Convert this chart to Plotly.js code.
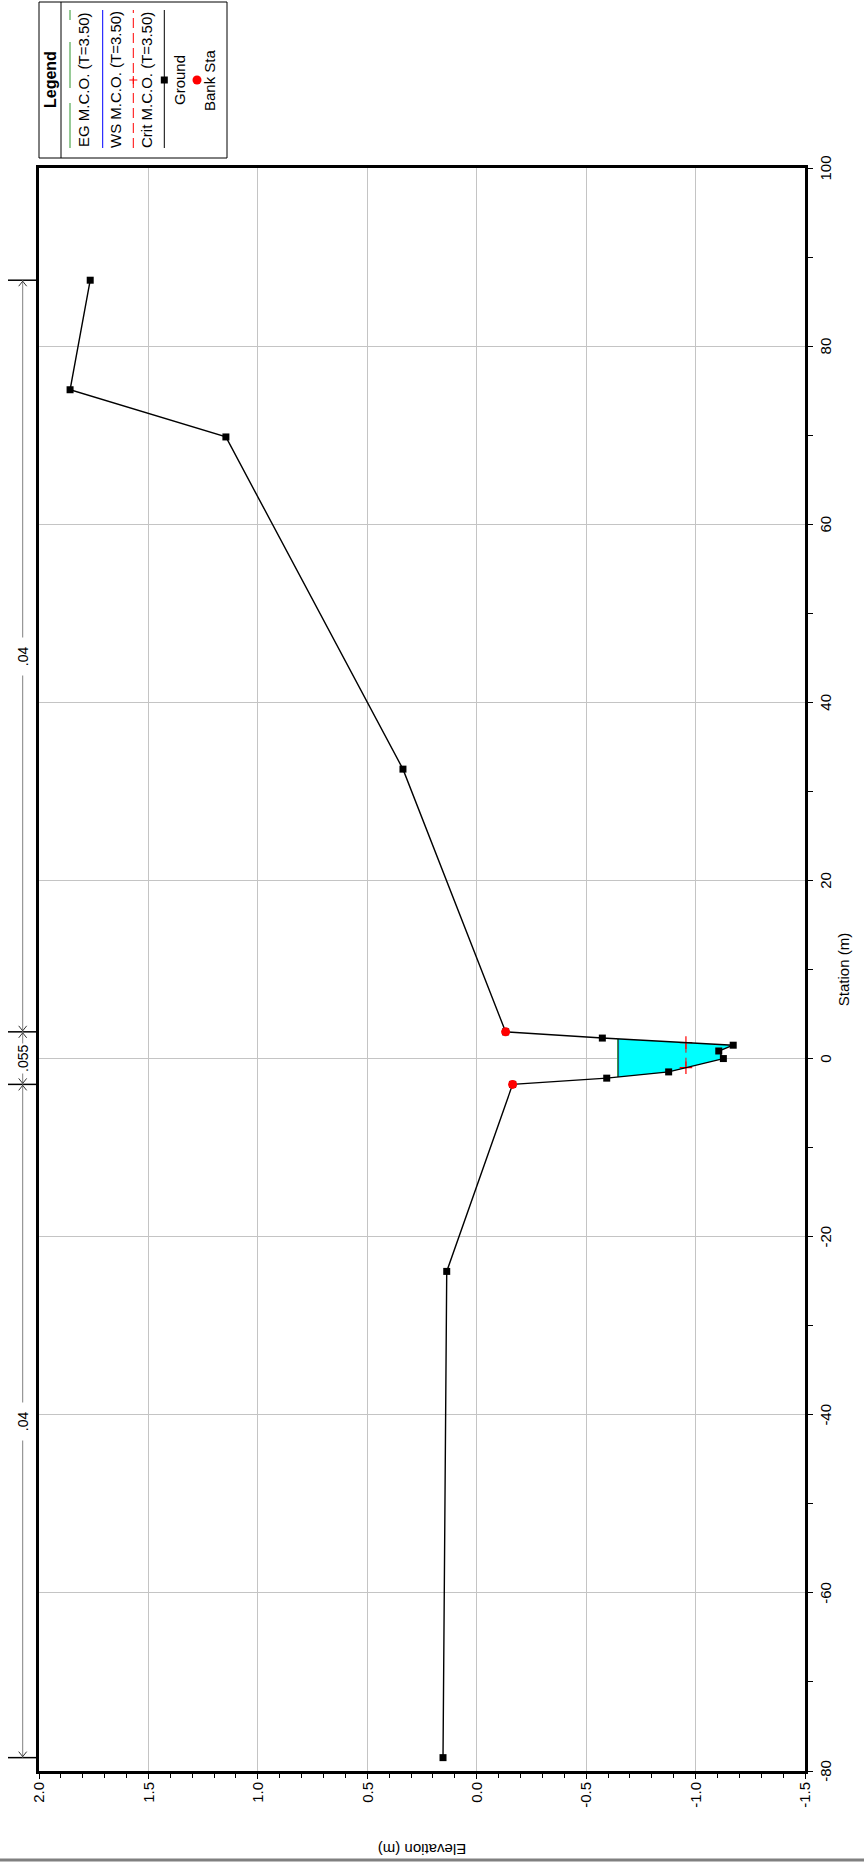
<!DOCTYPE html>
<html>
<head>
<meta charset="utf-8">
<script src="https://cdn.plot.ly/plotly-3.0.1.min.js"></script>
<style>
html,body{margin:0;padding:0;background:#fff;}
#wrap{position:absolute;left:0;top:0;width:864px;height:1863px;overflow:hidden;background:#fff;}
#plot{position:absolute;left:0;top:0;width:1863px;height:864px;transform-origin:0 0;transform:translate(0px,1863px) rotate(-90deg);}
</style>
</head>
<body>
<div id="wrap"><div id="plot"></div></div>
<script>
// ---- data ----
const station = [-78.5, -23.9, -2.9, -2.2, -1.5, 0.0, 0.85, 1.5, 2.3, 3.0, 32.5, 69.8, 75.1, 87.4];
const elevation = [0.154, 0.137, -0.164, -0.594, -0.877, -1.127, -1.106, -1.172, -0.574, -0.132, 0.337, 1.146, 1.858, 1.766];
const bankStation = [-2.9, 3.0];
const bankElevation = [-0.164, -0.132];
const wsElev = -0.647;   // WS M.C.O. (T=3.50)
const egElev = -0.645;   // EG M.C.O. (T=3.50)
const critElev = -0.956; // Crit M.C.O. (T=3.50)
const nValues = ['.04', '.055', '.04'];
const nBreaks = [-78.5, -2.9, 3.0, 87.4];
const stationTicks = [-80, -60, -40, -20, 0, 20, 40, 60, 80, 100];
const stationTickText = ['-80', '-60', '-40', '-20', '0', '20', '40', '60', '80', '100'];
const elevTicks = [-1.5, -1.0, -0.5, 0.0, 0.5, 1.0, 1.5, 2.0];
const elevTickText = ['-1.5', '-1.0', '-0.5', '0.0', '0.5', '1.0', '1.5', '2.0'];
const legendNames = ['EG M.C.O. (T=3.50)', 'WS M.C.O. (T=3.50)', 'Crit M.C.O. (T=3.50)', 'Ground', 'Bank Sta'];

// ---- geometry helpers ----
const W = 1863, H = 864;
const M = {l: 92, r: 168, t: 39, b: 59};
const PW = W - M.l - M.r, PH = H - M.t - M.b;
const px = x => (x - M.l) / PW;
const py = y => 1 - (y - M.t) / PH;

function crossings(level, lo, hi) {
  const out = [];
  for (let i = 0; i < station.length - 1; i++) {
    const x0 = station[i], x1 = station[i + 1], y0 = elevation[i], y1 = elevation[i + 1];
    if (x1 <= lo || x0 >= hi) continue;
    if ((y0 - level) * (y1 - level) < 0) {
      const t = (level - y0) / (y1 - y0);
      out.push(x0 + t * (x1 - x0));
    }
  }
  return out;
}
const wsX = crossings(wsElev, bankStation[0], bankStation[1]);
const critX = crossings(critElev, bankStation[0], bankStation[1]);
const polyX = [wsX[0]], polyY = [wsElev];
for (let i = 0; i < station.length; i++) {
  if (station[i] > wsX[0] && station[i] < wsX[wsX.length - 1]) { polyX.push(station[i]); polyY.push(elevation[i]); }
}
polyX.push(wsX[wsX.length - 1]); polyY.push(wsElev);

const FONT = 'Liberation Sans, Arial, sans-serif';
const GREEN = '#2e962e';

const traces = [
  {x: polyX, y: polyY, type: 'scatter', mode: 'lines', fill: 'toself', fillcolor: '#00ffff', line: {width: 0}, hoverinfo: 'skip'},
  {x: [wsX[0], wsX[wsX.length - 1]], y: [wsElev, wsElev], type: 'scatter', mode: 'lines', line: {color: '#0000ff', width: 1.5}},
  {x: [wsX[0], wsX[wsX.length - 1]], y: [egElev, egElev], type: 'scatter', mode: 'lines', line: {color: GREEN, width: 1.5}},
  {x: [critX[0], critX[critX.length - 1]], y: [critElev, critElev], type: 'scatter', mode: 'lines+markers',
   line: {color: '#ff0000', width: 1, dash: '10px,5px'}, marker: {symbol: 'cross-thin', size: 9, line: {color: '#ff0000', width: 1.2}}},
  {x: station, y: elevation, type: 'scatter', mode: 'lines+markers', line: {color: '#000', width: 1.4},
   marker: {symbol: 'square', size: 7, color: '#000'}},
  {x: bankStation, y: bankElevation, type: 'scatter', mode: 'markers', marker: {symbol: 'circle', size: 9, color: '#ff0000'}}
];

const shapes = [];
const annotations = [];

// window border line (left edge of original canvas)
shapes.push({type: 'line', xref: 'paper', yref: 'paper', x0: px(3), x1: px(3), y0: py(H + 5), y1: py(-5), line: {color: '#808080', width: 3}});

// Manning's n annotation above plot
const nLineY = py(22.7);
for (let i = 0; i < nBreaks.length; i++) {
  shapes.push({type: 'line', xref: 'x', yref: 'paper', x0: nBreaks[i], x1: nBreaks[i], y0: py(8), y1: py(38), line: {color: '#000', width: 1.5}});
}
for (let i = 0; i < nValues.length; i++) {
  shapes.push({type: 'line', xref: 'x', yref: 'paper', x0: nBreaks[i], x1: nBreaks[i + 1], y0: nLineY, y1: nLineY, line: {color: '#808080', width: 1}});
  shapes.push({type: 'path', xref: 'x', yref: 'paper', xsizemode: 'pixel', ysizemode: 'pixel', xanchor: nBreaks[i], yanchor: nLineY,
               path: 'M 6,4 L 1,0 L 6,-4', line: {color: '#333', width: 1}});
  shapes.push({type: 'path', xref: 'x', yref: 'paper', xsizemode: 'pixel', ysizemode: 'pixel', xanchor: nBreaks[i + 1], yanchor: nLineY,
               path: 'M -6,4 L -1,0 L -6,-4', line: {color: '#333', width: 1}});
  const pad = nValues[i].length > 3 ? '' : '&nbsp;&nbsp;';
  annotations.push({xref: 'x', yref: 'paper', x: (nBreaks[i] + nBreaks[i + 1]) / 2, y: nLineY, text: pad + nValues[i] + pad, showarrow: false,
                    xanchor: 'center', yanchor: 'middle', bgcolor: '#fff', borderpad: 1,
                    font: {family: FONT, size: 14, color: '#000'}});
}

// custom legend (box at top right of the original chart)
const LX0 = 1705, LX1 = 1861, LY0 = 39, LY1 = 227, LC = 1783;
shapes.push({type: 'rect', xref: 'paper', yref: 'paper', x0: px(LX0), x1: px(LX1), y0: py(LY1), y1: py(LY0), line: {color: '#000', width: 1}, fillcolor: '#fff', layer: 'above'});
shapes.push({type: 'line', xref: 'paper', yref: 'paper', x0: px(LX0), x1: px(LX1), y0: py(61), y1: py(61), line: {color: '#000', width: 1}});
annotations.push({xref: 'paper', yref: 'paper', x: px(LC), y: py(50), text: '<b>Legend</b>', showarrow: false, xanchor: 'center', yanchor: 'middle', font: {family: FONT, size: 16, color: '#000'}});
[[1715, 1760], [1775, 1821], [1843, 1853]].forEach(s => shapes.push({type: 'line', xref: 'paper', yref: 'paper', x0: px(s[0]), x1: px(s[1]), y0: py(70), y1: py(70), line: {color: GREEN, width: 1}}));
shapes.push({type: 'line', xref: 'paper', yref: 'paper', x0: px(1715), x1: px(1853), y0: py(102.7), y1: py(102.7), line: {color: '#0000ff', width: 1}});
shapes.push({type: 'line', xref: 'paper', yref: 'paper', x0: px(1715), x1: px(1853), y0: py(133.3), y1: py(133.3), line: {color: '#ff0000', width: 1, dash: '10px,5px'}});
shapes.push({type: 'line', xref: 'paper', yref: 'paper', x0: px(LC - 4), x1: px(LC + 4), y0: py(133.3), y1: py(133.3), line: {color: '#ff0000', width: 1}});
shapes.push({type: 'line', xref: 'paper', yref: 'paper', x0: px(LC), x1: px(LC), y0: py(129.3), y1: py(137.3), line: {color: '#ff0000', width: 1}});
shapes.push({type: 'line', xref: 'paper', yref: 'paper', x0: px(1715), x1: px(1853), y0: py(164.3), y1: py(164.3), line: {color: '#000', width: 1}});
shapes.push({type: 'rect', xref: 'paper', yref: 'paper', x0: px(LC - 3.5), x1: px(LC + 3.5), y0: py(167.8), y1: py(160.8), line: {width: 0}, fillcolor: '#000'});
shapes.push({type: 'circle', xref: 'paper', yref: 'paper', x0: px(LC - 4.5), x1: px(LC + 4.5), y0: py(201.5), y1: py(192.5), line: {width: 0}, fillcolor: '#ff0000'});
const legendTextY = [83.5, 115.5, 146.5, 180, 210];
legendNames.forEach((t, i) => annotations.push({xref: 'paper', yref: 'paper', x: px(LC), y: py(legendTextY[i]), text: t, showarrow: false,
  xanchor: 'center', yanchor: 'middle', font: {family: FONT, size: 15, color: '#000'}}));

const axisCommon = {
  showgrid: true, gridcolor: '#c4c4c4', gridwidth: 1, zeroline: false,
  showline: true, linecolor: '#000', linewidth: 3, mirror: true,
  ticks: 'outside', ticklen: 5, tickwidth: 1, tickcolor: '#000',
  tickfont: {family: FONT, size: 15, color: '#000'}, tickmode: 'array', automargin: false
};

const layout = {
  width: W, height: H, margin: M,
  paper_bgcolor: '#fff', plot_bgcolor: '#fff', showlegend: false,
  font: {family: FONT, color: '#000'},
  xaxis: Object.assign({}, axisCommon, {
    range: [-80, 100], tickvals: stationTicks, ticktext: stationTickText,
    minor: {tickmode: 'linear', tick0: 0, dtick: 10, ticks: 'outside', ticklen: 5, tickcolor: '#000', showgrid: false},
    title: {text: 'Station (m)', font: {family: FONT, size: 15, color: '#000'}, standoff: 6}
  }),
  yaxis: Object.assign({}, axisCommon, {
    range: [-1.5, 2.0], tickvals: elevTicks, ticktext: elevTickText,
    minor: {tickmode: 'linear', tick0: 0, dtick: 0.1, ticks: 'outside', ticklen: 4, tickcolor: '#000', showgrid: false},
    title: {text: 'Elevation (m)', font: {family: FONT, size: 15, color: '#000'}, standoff: 32}
  }),
  shapes: shapes,
  annotations: annotations
};

Plotly.newPlot('plot', traces, layout, {staticPlot: true, displayModeBar: false});
</script>
</body>
</html>
